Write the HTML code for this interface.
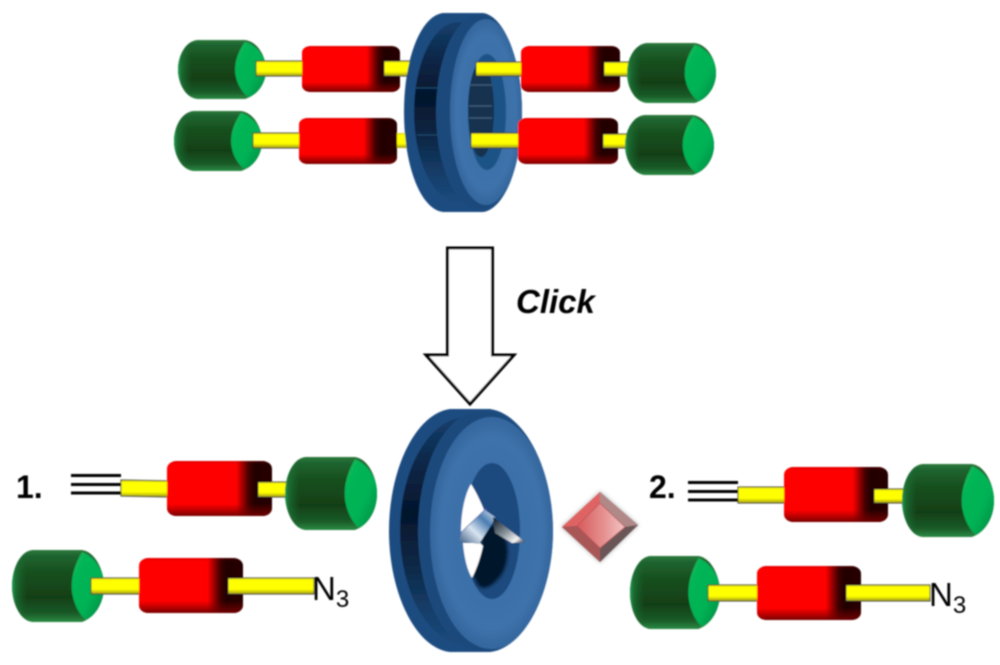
<!DOCTYPE html>
<html><head><meta charset="utf-8"><style>html,body{margin:0;padding:0;background:#fff}svg{display:block}</style></head><body>
<svg width="1000" height="665" viewBox="0 0 1000 665" xmlns="http://www.w3.org/2000/svg">
<defs>
<filter id="b" x="-5%" y="-5%" width="110%" height="110%"><feGaussianBlur stdDeviation="0.75"/></filter>
<filter id="b2" x="-20%" y="-20%" width="140%" height="140%"><feGaussianBlur stdDeviation="2"/></filter>
<filter id="b3" x="-20%" y="-20%" width="140%" height="140%"><feGaussianBlur stdDeviation="1.5"/></filter>
<clipPath id="cT"><path d="M443,13 H483 C505,16 522,62 522,112 C522,165 505,209 483,212 H443 C420,209 404,165 404,112 C404,60 420,16 443,13Z"/></clipPath>
<clipPath id="cB"><path d="M450,409 H490 C525,414 553,470 553,531 C553,592 525,648 490,652 H450 C415,648 389,592 389,531 C389,470 415,414 450,409Z"/></clipPath>
<linearGradient id="gv" x1="0" y1="0" x2="0" y2="1"><stop offset="0" stop-color="#2c7a3c"/><stop offset=".08" stop-color="#1f6430"/><stop offset=".3" stop-color="#17501f"/><stop offset=".66" stop-color="#113f17"/><stop offset=".88" stop-color="#1a5a28"/><stop offset="1" stop-color="#2a8a44"/></linearGradient>
<linearGradient id="gc" x1="0" y1="0" x2="1" y2="1"><stop offset="0" stop-color="#0ab858"/><stop offset=".6" stop-color="#00b254"/><stop offset="1" stop-color="#0a8a44"/></linearGradient>
<linearGradient id="gl" x1="0" y1="0" x2="1" y2="0"><stop offset="0" stop-color="#1fa452"/><stop offset=".04" stop-color="#1f7a3c" stop-opacity=".7"/><stop offset=".16" stop-color="#1a6a30" stop-opacity="0"/></linearGradient>
<linearGradient id="rh" x1="0" y1="0" x2="1" y2="0"><stop offset="0" stop-color="#ff0000"/><stop offset=".66" stop-color="#ff0000"/><stop offset=".78" stop-color="#400000"/><stop offset=".84" stop-color="#220002"/><stop offset="1" stop-color="#280004"/></linearGradient>
<linearGradient id="rv" x1="0" y1="0" x2="0" y2="1"><stop offset="0" stop-color="#a00000" stop-opacity=".3"/><stop offset=".06" stop-color="#800000" stop-opacity="0"/><stop offset=".78" stop-color="#800000" stop-opacity="0"/><stop offset="1" stop-color="#700000" stop-opacity=".95"/></linearGradient>
<linearGradient id="yb" x1="0" y1="0" x2="0" y2="1"><stop offset="0" stop-color="#d8d020"/><stop offset=".15" stop-color="#ffff00"/><stop offset=".7" stop-color="#ffff00"/><stop offset="1" stop-color="#a09a10"/></linearGradient>
<linearGradient id="dk" x1="0" y1="0" x2="0" y2="1"><stop offset="0" stop-color="#153f6c"/><stop offset=".2" stop-color="#0a2748"/><stop offset=".42" stop-color="#05152b"/><stop offset=".65" stop-color="#0b2846"/><stop offset=".85" stop-color="#153e6a"/><stop offset="1" stop-color="#1b4a7c"/></linearGradient>
<radialGradient id="face" cx=".5" cy=".5" r=".55"><stop offset="0" stop-color="#346aa4"/><stop offset=".75" stop-color="#3e72aa"/><stop offset="1" stop-color="#2e5f96"/></radialGradient>
<linearGradient id="armL" x1="0" y1="1" x2="1" y2="0"><stop offset="0" stop-color="#3a5a80"/><stop offset=".4" stop-color="#d8e4f0"/><stop offset=".7" stop-color="#4a7cb0"/><stop offset="1" stop-color="#dce8f4"/></linearGradient>
<linearGradient id="armR" x1="0" y1="0" x2="1" y2="1"><stop offset="0" stop-color="#0a1420"/><stop offset=".5" stop-color="#8a949c"/><stop offset=".8" stop-color="#f4f4f4"/><stop offset="1" stop-color="#20242a"/></linearGradient>
<linearGradient id="dia" x1="0" y1="0" x2="1" y2="0"><stop offset="0" stop-color="#d85a5a"/><stop offset=".5" stop-color="#e48a8a"/><stop offset="1" stop-color="#f2c4c4"/></linearGradient>
<g id="stopper">
<path d="M22,0 H76 C90,2 100,28 100,50 C100,74 90,94 76,100 H22 C8,98 0,72 0,50 C0,28 8,2 22,0Z" fill="url(#gv)"/>
<path d="M22,0 H76 C90,2 100,28 100,50 C100,74 90,94 76,100 H22 C8,98 0,72 0,50 C0,28 8,2 22,0Z" fill="url(#gl)"/>
<path d="M76,3 C68,20 64,38 65,55 C66,72 72,88 80,97 C92,90 100,70 100,50 C100,28 90,9 76,3Z" fill="url(#gc)"/>
</g>
<g id="red">
<rect x="0" y="0" width="100" height="100" rx="9" ry="14" fill="url(#rh)"/>
<rect x="0" y="0" width="100" height="100" rx="9" ry="14" fill="url(#rv)"/>
</g>
</defs>
<g filter="url(#b)">
<!-- Top left assemblies -->
<use href="#stopper" transform="translate(178,40) scale(.88,.59)"/>
<use href="#stopper" transform="translate(174,111) scale(.88,.6)"/>
<rect x="256" y="61" width="48" height="15" fill="url(#yb)" stroke="#333" stroke-width="1"/>
<rect x="253" y="133" width="48" height="15" fill="url(#yb)" stroke="#333" stroke-width="1"/>
<use href="#red" transform="translate(302,46) scale(.98,.46)"/>
<use href="#red" transform="translate(299,118) scale(.98,.46)"/>
<rect x="384" y="61" width="28" height="15" fill="url(#yb)" stroke="#333" stroke-width="1"/>
<rect x="397" y="133" width="12" height="15" fill="url(#yb)"/>
<!-- Top ring -->
<g clip-path="url(#cT)">
<rect x="400" y="10" width="125" height="205" fill="#1c4c80"/>
<ellipse cx="458" cy="112" rx="44" ry="90" fill="url(#dk)"/>
<ellipse cx="479" cy="112" rx="43" ry="97" fill="#1b4a7c"/>
<ellipse cx="486" cy="112" rx="36" ry="93" fill="url(#face)"/>
</g>
<ellipse cx="487" cy="112" rx="19" ry="58" fill="#1f5286"/>
<ellipse cx="481" cy="110" rx="13" ry="47" fill="#123050"/>
<path d="M469,85 H492 M469,106 H492 M469,118 H492" stroke="#40607e" stroke-width="1.2"/>
<path d="M415,88 H440 M417,135 H440" stroke="#1f4a72" stroke-width="1"/>
<!-- Top right assemblies -->
<rect x="476" y="62" width="48" height="14" fill="url(#yb)" stroke="#333" stroke-width="1"/>
<rect x="471" y="133" width="50" height="15" fill="url(#yb)" stroke="#333" stroke-width="1"/>
<use href="#red" transform="translate(521,46) scale(.99,.46)"/>
<use href="#red" transform="translate(518,118) scale(1,.46)"/>
<rect x="604" y="62" width="26" height="14" fill="url(#yb)" stroke="#333" stroke-width="1"/>
<rect x="603" y="134" width="26" height="14" fill="url(#yb)" stroke="#333" stroke-width="1"/>
<use href="#stopper" transform="translate(627,43) scale(.89,.6)"/>
<use href="#stopper" transform="translate(625,115) scale(.89,.6)"/>

<!-- Arrow -->
<path d="M447.500,248 H492.500 V355 H514 L470,404 L426,355 H447.500Z" fill="#fff" stroke="#000" stroke-width="3"/>
<text x="516" y="313" font-family="'Liberation Sans',sans-serif" font-weight="700" font-style="italic" font-size="33">Click</text>

<!-- Bottom ring -->
<g clip-path="url(#cB)">
<rect x="385" y="405" width="172" height="250" fill="#1c4c80"/>
<ellipse cx="467" cy="531" rx="67" ry="114" fill="url(#dk)"/>
<ellipse cx="481" cy="531" rx="63" ry="120" fill="#1b4a7c"/>
<ellipse cx="491.500" cy="533" rx="61.500" ry="116" fill="url(#face)"/>
</g>
<ellipse cx="492" cy="531" rx="28" ry="68" fill="#1c4a7e"/>
<path d="M481,512 L506,540 C510,555 506,572 497,580 C490,588 482,590 478,585 L473,575 L482,547 Z" fill="#06162c" filter="url(#b3)"/>
<path d="M471,484 C475,490 480,500 484,510 L461,532 C461,512 465,494 471,484Z" fill="#fff"/>
<path d="M463,543 H480 L483,546 C480,560 476,570 472,578 C467,570 464,556 463,543Z" fill="#fff"/>
<path d="M460,535 L486,509" stroke="#6a60c0" stroke-width="1.500"/>
<polygon points="485,510 495,517 492,524 479,544 459,541 462,532" fill="url(#armL)"/>
<polygon points="493,517 525,542 512,543 495,533" fill="url(#armR)"/>

<!-- Diamond -->
<polygon points="600,491 639,525 600,563 561,527" fill="#999" filter="url(#b2)" opacity=".55"/>
<polygon points="600,492 638,525 600,562 562,527" fill="#7a5050"/>
<polygon points="600,492 562,527 577,526 600,503" fill="#e06464"/>
<polygon points="600,492 638,525 625,527 600,503" fill="#b08888"/>
<polygon points="562,527 600,562 600,548 577,526" fill="#a85656"/>
<polygon points="638,525 600,562 600,548 625,527" fill="#6a5656"/>
<polygon points="600,503 625,527 600,548 577,526" fill="url(#dia)" stroke="#b85050" stroke-width=".7"/>

<!-- Bottom-left -->
<text x="16" y="498" font-family="'Liberation Sans',sans-serif" font-weight="700" font-size="32">1.</text>
<path d="M71,475.500 H121 M71,484.500 H121 M71,493 H121" stroke="#000" stroke-width="3"/>
<polygon points="121,480 170,481 170,497 121,496" fill="url(#yb)" stroke="#333" stroke-width="1"/>
<use href="#red" transform="translate(167,461) scale(1.05,.55)"/>
<rect x="258" y="482" width="30" height="15" fill="url(#yb)" stroke="#333" stroke-width="1"/>
<use href="#stopper" transform="translate(285,457) scale(.92,.73)"/>

<use href="#stopper" transform="translate(12,550) scale(.92,.72)"/>
<rect x="91" y="578" width="50" height="16" fill="url(#yb)" stroke="#333" stroke-width="1"/>
<use href="#red" transform="translate(139,558) scale(1.04,.55)"/>
<rect x="228" y="578" width="86" height="16" fill="url(#yb)" stroke="#333" stroke-width="1"/>
<text x="312" y="600" font-family="'Liberation Sans',sans-serif" font-size="33">N<tspan font-size="24" dy="7">3</tspan></text>

<!-- Bottom-right -->
<text x="649" y="498" font-family="'Liberation Sans',sans-serif" font-weight="700" font-size="32">2.</text>
<path d="M688,482.500 H738 M688,491.500 H738 M688,500 H738" stroke="#000" stroke-width="3"/>
<rect x="738" y="487" width="49" height="16" fill="url(#yb)" stroke="#333" stroke-width="1"/>
<use href="#red" transform="translate(784,467) scale(1.04,.55)"/>
<rect x="874" y="489" width="32" height="14" fill="url(#yb)" stroke="#333" stroke-width="1"/>
<use href="#stopper" transform="translate(902,464) scale(.92,.73)"/>

<use href="#stopper" transform="translate(630,556) scale(.9,.73)"/>
<rect x="708" y="585" width="51" height="16" fill="url(#yb)" stroke="#333" stroke-width="1"/>
<use href="#red" transform="translate(757,566) scale(1.04,.54)"/>
<rect x="846" y="585" width="84" height="16" fill="url(#yb)" stroke="#333" stroke-width="1"/>
<text x="929" y="606" font-family="'Liberation Sans',sans-serif" font-size="33">N<tspan font-size="24" dy="7">3</tspan></text>
</g>
</svg>
</body></html>
